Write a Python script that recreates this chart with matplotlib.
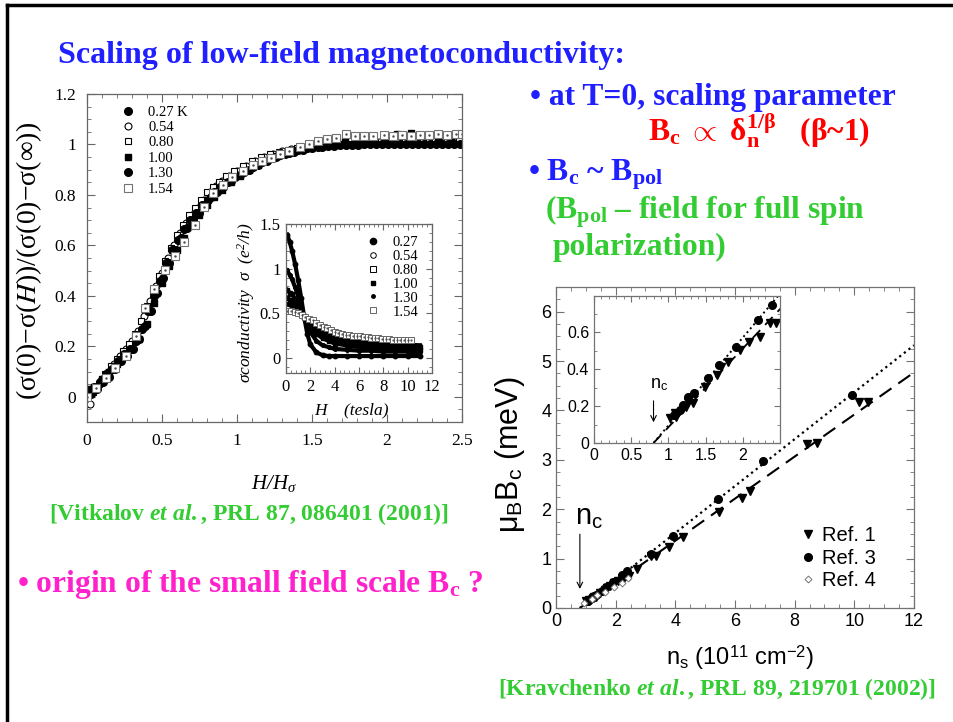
import matplotlib
matplotlib.use("Agg")
import matplotlib.pyplot as plt
from matplotlib.lines import Line2D
from matplotlib.ticker import MultipleLocator, FuncFormatter

# ---------------- data: scaling of magnetoconductivity (Vitkalov) ----------------
temps = ["0.27 K", "0.54", "0.80", "1.00", "1.30", "1.54"]

x027 = [0.01, 0.05, 0.09, 0.13, 0.17, 0.21, 0.25, 0.29, 0.33, 0.37, 0.41, 0.45, 0.49, 0.53, 0.57,
        0.61, 0.65, 0.69, 0.73, 0.77, 0.81, 0.85, 0.89, 0.94, 0.99, 1.05, 1.11, 1.17, 1.23, 1.29,
        1.35, 1.41, 1.47, 1.54, 1.61, 1.69, 1.77, 1.85, 1.93, 2.01, 2.09, 2.17, 2.25, 2.33, 2.41, 2.49]
y027 = [0.02, 0.04, 0.06, 0.09, 0.11, 0.14, 0.17, 0.19, 0.22, 0.27, 0.34, 0.40, 0.46, 0.53, 0.58,
        0.62, 0.665, 0.70, 0.73, 0.76, 0.78, 0.81, 0.83, 0.85, 0.87, 0.89, 0.91, 0.93, 0.945, 0.958,
        0.968, 0.977, 0.984, 0.99, 0.994, 0.997, 0.999, 1.0, 1.0, 1.001, 1.0, 1.0, 1.0, 1.0, 1.0, 1.0]

x054 = [0.02, 0.06, 0.10, 0.14, 0.18, 0.22, 0.26, 0.30, 0.34, 0.38, 0.42, 0.46, 0.50, 0.54, 0.58,
        0.62, 0.66, 0.70, 0.74, 0.78, 0.82, 0.86, 0.90, 0.95, 1.00, 1.06, 1.12, 1.18, 1.24, 1.30,
        1.36, 1.42, 1.48, 1.55, 1.63, 1.71, 1.79, 1.87, 1.95, 2.03, 2.11, 2.19, 2.27, 2.35, 2.43]
y054 = [-0.03, 0.03, 0.07, 0.10, 0.13, 0.16, 0.19, 0.22, 0.26, 0.32, 0.38, 0.44, 0.49, 0.55, 0.60,
        0.65, 0.69, 0.72, 0.75, 0.78, 0.81, 0.835, 0.855, 0.875, 0.895, 0.915, 0.935, 0.95, 0.963,
        0.973, 0.981, 0.987, 0.992, 0.996, 0.999, 1.002, 1.004, 1.006, 1.008, 1.01, 1.012, 1.013,
        1.015, 1.017, 1.02]

x080 = [0.00, 0.04, 0.08, 0.12, 0.16, 0.20, 0.24, 0.28, 0.32, 0.36, 0.40, 0.44, 0.48, 0.52, 0.56,
        0.60, 0.64, 0.68, 0.72, 0.76, 0.80, 0.84, 0.88, 0.93, 0.98, 1.04, 1.10, 1.16, 1.22, 1.28,
        1.34, 1.40, 1.46, 1.53, 1.60, 1.68, 1.76, 1.84, 1.92, 2.00, 2.08, 2.16, 2.24, 2.32, 2.40, 2.48]
y080 = [0.0, 0.02, 0.05, 0.09, 0.12, 0.15, 0.18, 0.21, 0.25, 0.30, 0.36, 0.42, 0.48, 0.54, 0.59,
        0.64, 0.68, 0.72, 0.75, 0.78, 0.81, 0.83, 0.85, 0.875, 0.895, 0.915, 0.935, 0.95, 0.962,
        0.972, 0.98, 0.986, 0.991, 0.995, 0.998, 1.0, 1.002, 1.003, 1.005, 1.006, 1.008, 1.01,
        1.011, 1.012, 1.013, 1.015]

x100 = [0.00, 0.05, 0.10, 0.15, 0.20, 0.25, 0.30, 0.35, 0.40, 0.45, 0.50, 0.55, 0.60, 0.65, 0.70,
        0.75, 0.80, 0.85, 0.90, 0.96, 1.02, 1.08, 1.14, 1.20, 1.27, 1.34, 1.41, 1.48, 1.56, 1.64,
        1.72, 1.80, 1.89, 1.98, 2.07, 2.16, 2.25, 2.34, 2.43]
y100 = [0.03, 0.04, 0.07, 0.10, 0.13, 0.16, 0.19, 0.23, 0.29, 0.37, 0.45, 0.52, 0.58, 0.63, 0.68,
        0.72, 0.76, 0.79, 0.82, 0.85, 0.875, 0.90, 0.92, 0.94, 0.955, 0.968, 0.978, 0.986, 0.995,
        1.005, 1.015, 1.022, 1.03, 1.035, 1.04, 1.045, 1.035, 1.03, 1.025]

x130 = [0.03, 0.07, 0.11, 0.15, 0.19, 0.23, 0.27, 0.31, 0.35, 0.39, 0.43, 0.47, 0.51, 0.55, 0.59,
        0.63, 0.67, 0.71, 0.75, 0.79, 0.83, 0.87, 0.91, 0.96, 1.02, 1.08, 1.14, 1.20, 1.26, 1.32,
        1.38, 1.44, 1.50, 1.57, 1.65, 1.73, 1.81, 1.89, 1.97, 2.05, 2.13, 2.21, 2.29, 2.37, 2.45]
y130 = [0.01, 0.03, 0.06, 0.08, 0.11, 0.14, 0.16, 0.19, 0.23, 0.28, 0.34, 0.41, 0.47, 0.53, 0.58,
        0.63, 0.67, 0.70, 0.73, 0.76, 0.79, 0.81, 0.83, 0.855, 0.88, 0.90, 0.92, 0.935, 0.95, 0.962,
        0.972, 0.98, 0.986, 0.991, 0.995, 0.997, 0.999, 1.0, 1.0, 1.0, 1.0, 1.0, 1.0, 1.0, 1.0]

x154 = [0.00, 0.06, 0.13, 0.19, 0.26, 0.33, 0.39, 0.45, 0.52, 0.59, 0.65, 0.72, 0.78, 0.84, 0.91,
        0.97, 1.04, 1.11, 1.17, 1.23, 1.29, 1.35, 1.42, 1.48, 1.54, 1.60, 1.66, 1.73, 1.79, 1.85,
        1.91, 1.98, 2.04, 2.10, 2.16, 2.22, 2.28, 2.34, 2.40, 2.46, 2.50]
y154 = [0.0, 0.034, 0.075, 0.113, 0.16, 0.242, 0.351, 0.426, 0.501, 0.557, 0.613, 0.682, 0.752,
        0.807, 0.84, 0.87, 0.895, 0.919, 0.936, 0.946, 0.961, 0.976, 0.989, 1.002, 1.014, 1.022,
        1.026, 1.041, 1.035, 1.032, 1.035, 1.037, 1.033, 1.036, 1.034, 1.038, 1.036, 1.04, 1.038,
        1.04, 1.04]

# inset: conductivity vs field (tesla)
H_in = [0.1, 0.3, 0.5, 0.75, 1.0, 1.25, 1.5, 1.75, 2.0, 2.5, 3.0, 3.5, 4, 5, 6, 7, 8, 9, 10, 11]
s027 = [1.38, 1.30, 1.20, 1.05, 0.87, 0.67, 0.45, 0.27, 0.15, 0.06, 0.03, 0.02, 0.02, 0.02, 0.02,
        0.02, 0.02, 0.02, 0.02, 0.02]
s054 = [0.98, 0.93, 0.88, 0.79, 0.69, 0.58, 0.47, 0.37, 0.29, 0.19, 0.14, 0.12, 0.10, 0.09, 0.08,
        0.08, 0.07, 0.07, 0.07, 0.06]
s080 = [0.76, 0.73, 0.71, 0.66, 0.61, 0.54, 0.47, 0.41, 0.35, 0.27, 0.22, 0.19, 0.16, 0.14, 0.12,
        0.11, 0.11, 0.10, 0.10, 0.09]
s100 = [0.67, 0.65, 0.64, 0.60, 0.56, 0.52, 0.47, 0.42, 0.38, 0.31, 0.26, 0.23, 0.20, 0.17, 0.15,
        0.14, 0.13, 0.13, 0.12, 0.12]
s130 = [0.60, 0.59, 0.58, 0.56, 0.53, 0.50, 0.47, 0.44, 0.40, 0.35, 0.30, 0.27, 0.24, 0.20, 0.18,
        0.17, 0.16, 0.15, 0.15, 0.14]
H_154 = [0.1, 0.4, 0.7, 1.0, 1.3, 1.6, 1.9, 2.2, 2.5, 2.8, 3.1, 3.4, 3.7, 4.0, 4.3, 4.6, 4.9, 5.2,
         5.5, 5.8, 6.1, 6.4, 6.7, 7.0, 7.3, 7.6, 7.9, 8.2, 8.5, 8.8, 9.1, 9.4, 9.7, 10.0, 10.3]
s154 = [0.53, 0.52, 0.51, 0.50, 0.48, 0.46, 0.44, 0.42, 0.39, 0.37, 0.35, 0.33, 0.31, 0.29, 0.28,
        0.27, 0.26, 0.255, 0.25, 0.245, 0.24, 0.235, 0.23, 0.225, 0.22, 0.22, 0.215, 0.21, 0.21,
        0.205, 0.205, 0.20, 0.20, 0.20, 0.195]

# ---------------- data: mu_B B_c vs n_s (Kravchenko) ----------------
ref1_n = [1.02, 1.09, 1.10, 1.23, 1.27, 1.33, 1.49, 1.65, 1.71, 1.80, 1.96, 2.09, 2.23, 2.36, 2.44,
          2.70, 3.18, 3.34, 3.79, 4.27, 5.47, 6.22, 6.50, 8.40, 8.74, 10.14, 10.47]
ref1_b = [0.133, 0.16, 0.14, 0.196, 0.22, 0.214, 0.305, 0.37, 0.41, 0.44, 0.503, 0.548, 0.575,
          0.647, 0.647, 0.79, 1.05, 1.05, 1.24, 1.43, 1.94, 2.22, 2.37, 3.33, 3.34, 4.18, 4.18]
ref3_n = [1.07, 1.15, 1.20, 1.27, 1.35, 1.53, 1.68, 1.91, 2.21, 2.39, 3.18, 3.93, 5.43, 6.93, 9.93]
ref3_b = [0.15, 0.18, 0.205, 0.25, 0.268, 0.35, 0.423, 0.52, 0.663, 0.744, 1.09, 1.46, 2.2, 2.98, 4.32]
ref4_n = [0.94, 1.20, 1.38, 1.64, 1.96, 2.20, 2.42]
ref4_b = [0.10, 0.18, 0.26, 0.33, 0.42, 0.51, 0.60]
fit_n = [0.8, 12.0]
fit_dotted = [0.0, 5.32]
fit_dashed = [0.0, 4.77]
n_c = 0.8

BLUE = "#1f1fff"
RED = "#ff0000"
GREEN = "#33cc33"
MAGENTA = "#ff22cc"

plt.rcParams["font.family"] = ["Liberation Serif", "DejaVu Serif"]
plt.rcParams["mathtext.fontset"] = "custom"
plt.rcParams["mathtext.rm"] = "Liberation Serif:bold"
plt.rcParams["mathtext.bf"] = "Liberation Serif:bold"
plt.rcParams["mathtext.it"] = "Liberation Serif:italic:bold"

W, HP = 954, 722
fig = plt.figure(figsize=(W / 100, HP / 100), dpi=100)


def box(l, t, r, b):
    return [l / W, 1 - b / HP, (r - l) / W, (b - t) / HP]


def ptext(x, y, s, **kw):
    fig.text(x / W, 1 - y / HP, s, va="baseline", ha="left", **kw)


fmt = FuncFormatter(lambda v, p: "%g" % v)


def style_axes(ax, color, size, family):
    for sp in ax.spines.values():
        sp.set_color(color)
        sp.set_linewidth(0.9)
    ax.tick_params(which="both", direction="in", top=True, right=True, color=color,
                   labelsize=size, labelfontfamily=family)
    ax.tick_params(which="major", length=6, width=0.8)
    ax.tick_params(which="minor", length=3, width=0.6)
    ax.xaxis.set_major_formatter(fmt)
    ax.yaxis.set_major_formatter(fmt)


# slide frame
fig.add_artist(Line2D([7 / W, 1], [1 - 5 / HP, 1 - 5 / HP], color="black", lw=2.5))
fig.add_artist(Line2D([7 / W, 7 / W], [0, 1 - 5 / HP], color="black", lw=2.5))

# ---------------- left main plot ----------------
ax1 = fig.add_axes(box(87, 94, 462, 422))
ms = 5
ax1.plot(x054, y054, "o", ms=ms, mfc="white", mec="black", mew=0.8, label=temps[1])
ax1.plot(x080, y080, "s", ms=ms, mfc="white", mec="black", mew=0.8, label=temps[2])
ax1.plot(x130, y130, "o", ms=ms + 0.5, color="black", label=temps[4])
ax1.plot(x027, y027, "o", ms=ms + 0.5, color="black", label=temps[0])
ax1.plot(x100, y100, "s", ms=ms, color="black", label=temps[3])
ax1.plot(x154, y154, "s", ms=ms + 0.5, mfc="white", mec="0.45", mew=0.8, label=temps[5])
ax1.plot(x154, y154, ".", ms=1.5, color="0.3")
ax1.set_xlim(0, 2.5)
ax1.set_ylim(-0.1, 1.2)
ax1.xaxis.set_major_locator(MultipleLocator(0.5))
ax1.xaxis.set_minor_locator(MultipleLocator(0.1))
ax1.yaxis.set_major_locator(MultipleLocator(0.2))
ax1.yaxis.set_minor_locator(MultipleLocator(0.05))
style_axes(ax1, "0.4", 12.5, "Liberation Serif")
ax1.tick_params(which="major", pad=8)
ax1.set_ylabel("(σ(0)−σ($\\mathit{H}$))/(σ(0)−σ(∞))", fontsize=20, math_fontfamily="stix")
ax1.yaxis.set_label_coords(-0.115, 0.49)
ax1.set_xlabel("H/H$_\\mathregular{σ}$", fontsize=15, fontstyle="italic")
ax1.xaxis.set_label_coords(0.5, -0.155)
hs, ls = ax1.get_legend_handles_labels()
order = [temps.index(t) for t in ls]
hs = [h for _, h in sorted(zip(order, hs), key=lambda p: p[0])]
ls = [l for _, l in sorted(zip(order, ls), key=lambda p: p[0])]
ax1.legend(hs, ls, loc="upper left", bbox_to_anchor=(0.09, 0.965), frameon=False, fontsize=10.5,
           borderpad=0, borderaxespad=0, handlelength=1.0, handletextpad=0.87,
           labelspacing=0.15)

# ---------------- left inset ----------------
ax2 = fig.add_axes(box(286, 224, 432, 373))
for s, m, sz, fc in [(s027, "o", 3.2, "black"), (s054, "o", 2.6, "black"),
                     (s080, "s", 2.6, "black"), (s100, "s", 2.2, "black"),
                     (s130, "o", 2.0, "black")]:
    ax2.plot(H_in, s, "-", color="black", lw=3.0, marker=m, ms=sz, mfc=fc)
ax2.plot(H_154, s154, "s", ms=4, mfc="white", mec="0.4", mew=0.7)
ax2.plot(H_154, s154, ".", ms=1.2, color="0.3")
ax2.set_xlim(0, 12)
ax2.set_ylim(-0.17, 1.5)
ax2.xaxis.set_major_locator(MultipleLocator(2))
ax2.xaxis.set_minor_locator(MultipleLocator(0.4))
ax2.yaxis.set_major_locator(MultipleLocator(0.5))
ax2.yaxis.set_minor_locator(MultipleLocator(0.1))
style_axes(ax2, "0.4", 12, "Liberation Serif")
ax2.tick_params(which="major", length=4, pad=4)
ax2.tick_params(which="minor", length=2)
ax2.set_ylabel("σconductivity  σ  (e$^\\mathregular{2}$/h)", fontsize=12.5, fontstyle="italic")
ax2.yaxis.set_label_coords(-0.2, 0.47)
ax2.set_xlabel("H    (tesla)", fontsize=12.5, fontstyle="italic")
ax2.xaxis.set_label_coords(0.45, -0.2)
inset_handles = [
    Line2D([], [], ls="none", marker="o", ms=4.5, color="black"),
    Line2D([], [], ls="none", marker="o", ms=4, mfc="white", mec="black", mew=0.7),
    Line2D([], [], ls="none", marker="s", ms=4, mfc="white", mec="black", mew=0.7),
    Line2D([], [], ls="none", marker="s", ms=3, color="black"),
    Line2D([], [], ls="none", marker="o", ms=2.5, color="black"),
    Line2D([], [], ls="none", marker="s", ms=4, mfc="white", mec="0.4", mew=0.7),
]
ax2.legend(inset_handles, [t.replace(" K", "") for t in temps], loc="upper left",
           bbox_to_anchor=(0.546, 0.922), frameon=False, fontsize=10.5, borderpad=0,
           borderaxespad=0, handlelength=1.0, handletextpad=0.87, labelspacing=0.05)

# ---------------- right main plot ----------------
SANS = "Liberation Sans"
ax3 = fig.add_axes(box(556, 287, 914, 608))
ax3.plot(fit_n, fit_dotted, ":", color="black", lw=1.6)
ax3.plot(fit_n, fit_dashed, color="black", lw=1.5, dashes=(7, 4))
ax3.plot(ref1_n, ref1_b, "v", ms=6, color="black", label="Ref. 1")
ax3.plot(ref3_n, ref3_b, "o", ms=5.5, color="black", label="Ref. 3")
ax3.plot(ref4_n, ref4_b, "D", ms=3.5, mfc="white", mec="0.45", mew=0.7, label="Ref. 4")
ax3.set_xlim(0, 12)
ax3.set_ylim(0, 6.5)
ax3.xaxis.set_major_locator(MultipleLocator(2))
ax3.xaxis.set_minor_locator(MultipleLocator(0.5))
ax3.yaxis.set_major_locator(MultipleLocator(1))
ax3.yaxis.set_minor_locator(MultipleLocator(0.25))
style_axes(ax3, "0.45", 13, SANS)
ax3.set_ylabel("μ$_\\mathregular{B}$B$_\\mathregular{c}$ (meV)", fontsize=22, family=SANS)
ax3.yaxis.set_label_coords(-0.08, 0.477)
ax3.set_xlabel("n$_\\mathregular{s}$ (10$^\\mathregular{11}$ cm$^\\mathregular{-2}$)",
               fontsize=17, family=SANS)
ax3.xaxis.set_label_coords(0.514, -0.11)
ax3.legend(loc="upper left", bbox_to_anchor=(0.676, 0.255), frameon=False,
           prop={"family": SANS, "size": 14.5}, borderpad=0, borderaxespad=0,
           handlelength=1.0, handletextpad=0.2, labelspacing=0.17)
ax3.annotate("", xy=(n_c, 0.33), xytext=(n_c, 1.55),
             arrowprops=dict(arrowstyle="->", lw=0.8, color="black"))
ax3.text(0.64, 1.68, "n$_\\mathregular{c}$", fontsize=21, family=SANS, va="baseline")

# ---------------- right inset ----------------
ax4 = fig.add_axes(box(594, 296, 780, 443))
ax4.plot(fit_n, fit_dotted, ":", color="black", lw=1.4)
ax4.plot(fit_n, fit_dashed, color="black", lw=1.3, dashes=(6, 4))
ax4.plot(ref1_n, ref1_b, "v", ms=6, color="black")
ax4.plot(ref3_n, ref3_b, "o", ms=5.5, color="black")
ax4.set_xlim(0, 2.5)
ax4.set_ylim(0, 0.795)
ax4.set_xticks([0, 0.5, 1, 1.5, 2])
ax4.set_yticks([0, 0.2, 0.4, 0.6])
ax4.xaxis.set_minor_locator(MultipleLocator(0.1))
ax4.yaxis.set_minor_locator(MultipleLocator(0.1))
style_axes(ax4, "0.45", 11.5, SANS)
ax4.tick_params(which="major", length=4)
ax4.tick_params(which="minor", length=2)
ax4.annotate("", xy=(n_c, 0.097), xytext=(n_c, 0.243),
             arrowprops=dict(arrowstyle="->", lw=0.8, color="black"))
ax4.text(0.75, 0.297, "n$_\\mathregular{c}$", fontsize=13, family=SANS, va="baseline")

# ---------------- slide text ----------------
bold = dict(fontweight="bold", family="Liberation Serif")
TS = 22.7
ptext(58, 63, "Scaling of low-field magnetoconductivity:", color=BLUE, fontsize=23, **bold)
ptext(530, 105, "• at T=0, scaling parameter", color=BLUE, fontsize=TS, **bold)
ptext(648, 141, "B$_\\mathregular{c}$ $\\propto$ δ$_\\mathregular{n}^\\mathregular{1/β}$   (β~1)",
      color=RED, fontsize=TS, **bold)
ptext(528, 180, "• B$_\\mathregular{c}$ ~ B$_\\mathregular{pol}$", color=BLUE, fontsize=TS, **bold)
ptext(545, 218, "(B$_\\mathregular{pol}$ – field for full spin", color=GREEN, fontsize=TS, **bold)
ptext(553, 255, "polarization)", color=GREEN, fontsize=TS, **bold)
ptext(49, 520, "[Vitkalov $et\\ al.$, PRL 87, 086401 (2001)]", color=GREEN, fontsize=17, **bold)
ptext(17, 592, "• origin of the small field scale B$_\\mathregular{c}$ ?", color=MAGENTA,
      fontsize=TS, **bold)
ptext(498, 695, "[Kravchenko $et\\ al.$, PRL 89, 219701 (2002)]", color=GREEN, fontsize=17,
      **bold)

fig.savefig("out.png", dpi=100)
